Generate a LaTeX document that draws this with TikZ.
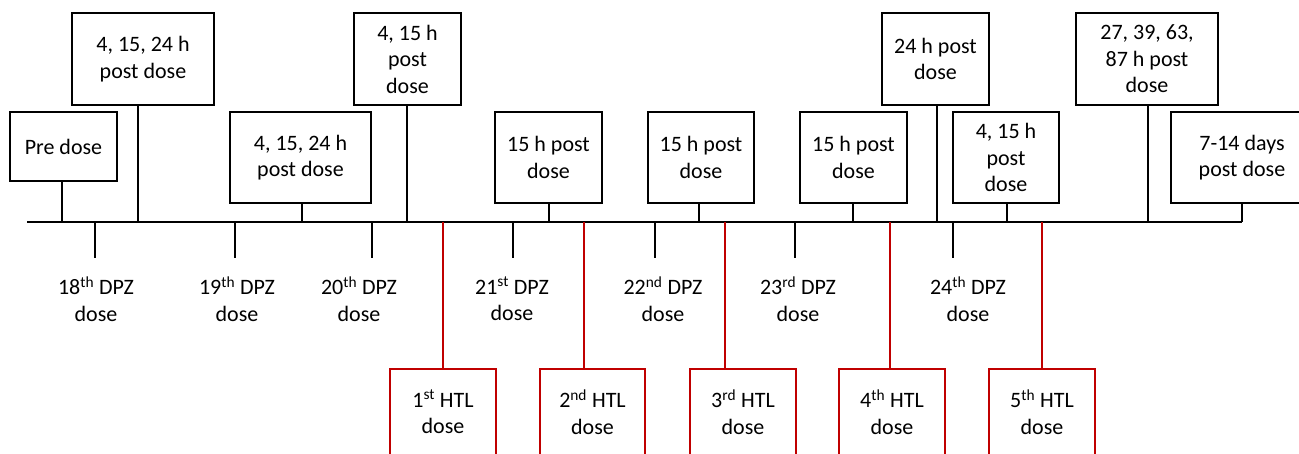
\documentclass[tikz,border=0pt]{standalone}
\usepackage{fontspec}
\setmainfont{Carlito}
\definecolor{htlred}{RGB}{192,0,0}
\begin{document}
\begin{tikzpicture}[x=1pt,y=-1pt,
  every node/.style={font=\fontsize{22}{26.5}\selectfont, align=center, inner sep=0pt},
  sample/.style={draw=black, line width=1.6pt, rectangle},
  stem/.style={draw=black, line width=1.6pt},
  axis/.style={draw=black, line width=2.2pt},
  htlbox/.style={draw=htlred, line width=1.5pt, rectangle, minimum width=106pt, minimum height=86pt},
  htlstem/.style={draw=htlred, line width=1.3pt}]
\useasboundingbox (0,0) rectangle (1299,453);
\clip (0,0) rectangle (1299,453);

% time axis
\coordinate (axL) at (27,222);
\coordinate (axR) at (1242,222);
\draw[axis] (axL) -- (axR);

% sampling times above the axis
\node[sample, minimum width=107pt, minimum height=69pt] (b1) at (63.5,146.5) {Pre dose};
\node[sample, minimum width=142pt, minimum height=92pt] (b2) at (143,59) {4, 15, 24 h\\post dose};
\node[sample, minimum width=141pt, minimum height=91pt] (b3) at (300.5,157.5) {4, 15, 24 h\\post dose};
\node[sample, minimum width=107pt, minimum height=92pt] (b4) at (407.5,59) {4, 15 h\\post\\dose};
\node[sample, minimum width=107pt, minimum height=91pt] (b5) at (548.5,157.5) {15 h post\\dose};
\node[sample, minimum width=106pt, minimum height=91pt] (b6) at (701,157.5) {15 h post\\dose};
\node[sample, minimum width=107pt, minimum height=91pt] (b7) at (853.5,157.5) {15 h post\\dose};
\node[sample, minimum width=107pt, minimum height=92pt] (b8) at (935.5,59) {24 h post\\dose};
\node[sample, minimum width=106pt, minimum height=91pt] (b9) at (1006,157.5) {4, 15 h\\post\\dose};
\node[sample, minimum width=142pt, minimum height=92pt] (b10) at (1147,59) {27, 39, 63,\\87 h post\\dose};
\node[sample, minimum width=142pt, minimum height=91pt] (b11) at (1242,157.5) {7-14 days\\post dose};

\foreach \b/\dx in {b1/-1.5, b2/-5, b3/1.5, b4/-0.5, b5/0.5, b6/-2, b7/-0.5, b8/1.5, b9/1, b10/1, b11/0}
  \draw[stem] ([xshift=\dx pt]\b.south) -- ([xshift=\dx pt]\b.south |- axL);

% DPZ doses below the axis
\foreach \n/\x in {d18/95, d19/235, d20/372, d21/513, d22/655, d23/795, d24/953} {
  \coordinate (\n) at (\x,258);
  \draw[stem] (\n |- axL) -- (\n);
}
\node (l18) at (96,299)  {18\textsuperscript{th} DPZ\\dose};
\node (l19) at (237,299) {19\textsuperscript{th} DPZ\\dose};
\node (l20) at (359,299) {20\textsuperscript{th} DPZ\\dose};
\node (l21) at (512,299) {21\textsuperscript{st} DPZ\\dose};
\node (l22) at (663,299) {22\textsuperscript{nd} DPZ\\dose};
\node (l23) at (798,299) {23\textsuperscript{rd} DPZ\\dose};
\node (l24) at (968,299) {24\textsuperscript{th} DPZ\\dose};

% HTL doses
\node[htlbox] (h1) at (443,412)   {1\textsuperscript{st} HTL\\dose};
\node[htlbox, minimum width=105pt] (h2) at (592.5,412) {2\textsuperscript{nd} HTL\\dose};
\node[htlbox] (h3) at (743,412)   {3\textsuperscript{rd} HTL\\dose};
\node[htlbox] (h4) at (892,412)   {4\textsuperscript{th} HTL\\dose};
\node[htlbox] (h5) at (1042,412)  {5\textsuperscript{th} HTL\\dose};

\foreach \h/\x in {h1/443, h2/584, h3/725, h4/890, h5/1042} {
  \coordinate (\h a) at (\x,222);
  \draw[htlstem] (\h a) -- (\h a |- \h.north);
}
\end{tikzpicture}
\end{document}
